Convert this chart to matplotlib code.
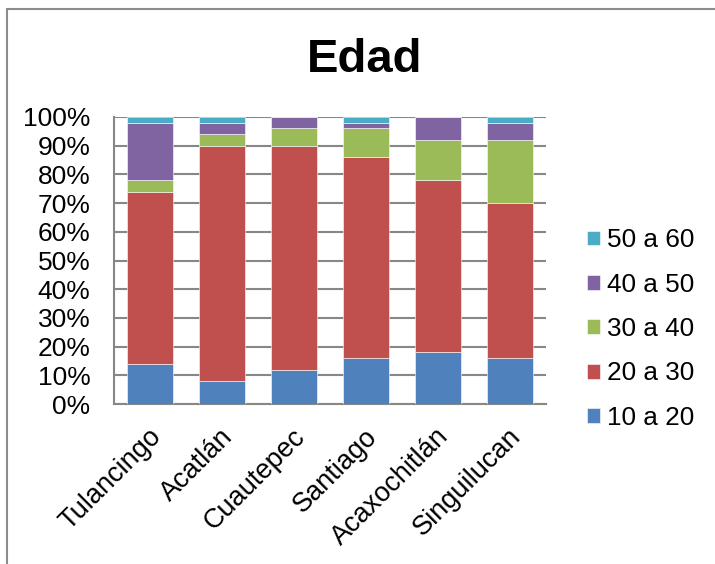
import matplotlib.pyplot as plt
import numpy as np
from matplotlib.patches import Rectangle

plt.rcParams['font.family'] = ['Liberation Sans', 'DejaVu Sans']

municipios = ['Tulancingo', 'Acatlán', 'Cuautepec', 'Santiago', 'Acaxochitlán', 'Singuilucan']
edad_10_20 = [14, 8, 12, 16, 18, 16]
edad_20_30 = [60, 82, 78, 70, 60, 54]
edad_30_40 = [4, 4, 6, 10, 14, 22]
edad_40_50 = [20, 4, 4, 2, 8, 6]
edad_50_60 = [2, 2, 0, 2, 0, 2]

series = [('10 a 20', edad_10_20, '#4F81BD'),
          ('20 a 30', edad_20_30, '#C0504D'),
          ('30 a 40', edad_30_40, '#9BBB59'),
          ('40 a 50', edad_40_50, '#8064A2'),
          ('50 a 60', edad_50_60, '#4BACC6')]

fig = plt.figure(figsize=(7.15, 5.64), dpi=100)
fig.patches.append(Rectangle((7/715, -0.1), 1.2, 1 - 9/564 + 0.1, transform=fig.transFigure,
                             fill=False, edgecolor='#8c8c8c', linewidth=1.5))
ax = fig.add_axes([114/715, 1 - 404/564, 432/715, 287/564])

x = np.arange(len(municipios))
bottom = np.zeros(len(municipios))
handles = []
for label, vals, color in series:
    b = ax.bar(x, vals, 0.64, bottom=bottom, color=color, edgecolor='white',
               linewidth=0.4, label=label, zorder=3)
    handles.append(b)
    bottom += np.array(vals)

ax.set_xlim(-0.5, 5.5)
ax.set_ylim(0, 100)
ax.set_yticks(range(0, 101, 10))
ax.set_yticklabels([f'{v}%' for v in range(0, 101, 10)], fontsize=19)
ax.set_xticks(x - 0.03)
ax.set_xticklabels(municipios, rotation=45, ha='right', va='top', rotation_mode='anchor', fontsize=19.5)
ax.tick_params(axis='x', length=0, pad=14)
ax.tick_params(axis='y', length=0, pad=17)
ax.yaxis.grid(True, color='#878787', linewidth=1.5, zorder=0)
ax.set_axisbelow(True)
for s in ['top', 'right']:
    ax.spines[s].set_visible(False)
for s in ['left', 'bottom']:
    ax.spines[s].set_color('#878787')
    ax.spines[s].set_linewidth(1.5)

fig.legend(handles[::-1], [h.get_label() for h in handles[::-1]], loc='center left',
           bbox_to_anchor=(587/715, 1 - 329/564), frameon=False, fontsize=18.8,
           borderpad=0, borderaxespad=0,
           handlelength=0.5, handleheight=0.5, labelspacing=0.78, handletextpad=0.25)

fig.text(365/715, 1 - 60/564, 'Edad', ha='center', va='center', fontsize=34, fontweight='bold')

fig.savefig('out.png', dpi=100)
